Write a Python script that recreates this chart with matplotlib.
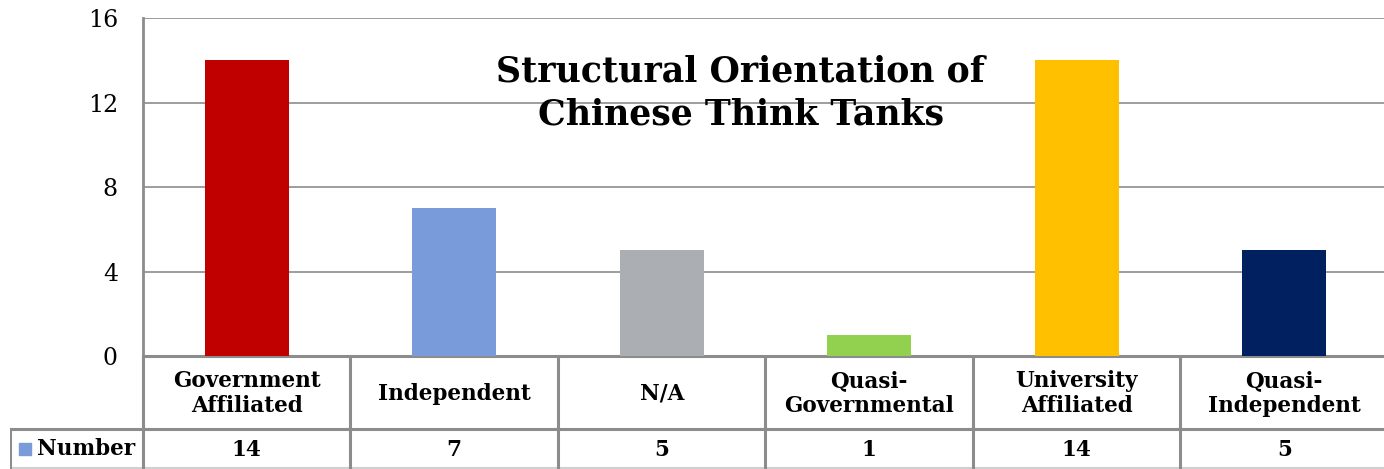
import matplotlib
matplotlib.use("Agg")
import matplotlib.pyplot as plt

categories = ["Government\nAffiliated", "Independent", "N/A", "Quasi-\nGovernmental",
              "University\nAffiliated", "Quasi-\nIndependent"]
values = [14, 7, 5, 1, 14, 5]
colors = ["#C00000", "#7A9BDA", "#ABAEB3", "#92D050", "#FFC000", "#002060"]
yticks = [0, 4, 8, 12, 16]
series_name = "Number"
title = "Structural Orientation of\nChinese Think Tanks"

W, H = 1384, 469
fig = plt.figure(figsize=(W / 100, H / 100), dpi=100)
FONT = "DejaVu Serif"
GRID = "#8C8C8C"

col_w = 207.5
ax_left, ax_top, ax_bot = 143, 18, 356
n = len(categories)
ax_right = ax_left + n * col_w

ax = fig.add_axes([ax_left / W, (H - ax_bot) / H, (ax_right - ax_left) / W, (ax_bot - ax_top) / H])
x = list(range(n))
ax.bar(x, values, width=0.405, color=colors, zorder=3)
ax.set_xlim(-0.5, n - 0.5)
ax.set_ylim(0, 16)
ax.set_yticks(yticks)
ax.set_yticklabels([str(t) for t in yticks], fontfamily=FONT, fontsize=17)
ax.tick_params(axis="y", length=0, pad=18)
ax.set_xticks([])
for s in ["top", "right"]:
    ax.spines[s].set_visible(False)
ax.spines["left"].set_color(GRID)
ax.spines["left"].set_linewidth(2)
ax.spines["bottom"].set_color(GRID)
ax.spines["bottom"].set_linewidth(2.2)
ax.grid(axis="y", color=GRID, linewidth=1.2, zorder=0)
ax.set_axisbelow(True)
ax.text(0.48, (ax_bot - 93) / (ax_bot - ax_top), title, transform=ax.transAxes,
        ha="center", va="center", fontfamily=FONT, fontweight="bold", fontsize=25,
        linespacing=1.3, zorder=5)

# data table
tl = 10
tax = fig.add_axes([tl / W, 0, (ax_right - tl) / W, (H - ax_bot) / H])
x_left = -0.5 + (tl - ax_left) / col_w
tax.set_xlim(x_left, n - 0.5)
tax.set_ylim(H, ax_bot)
tax.axis("off")
row_split = 429
bottom = 468
tax.plot([x_left, n - 0.5], [row_split, row_split], color=GRID, lw=2.2, solid_capstyle="butt")
tax.plot([x_left, n - 0.5], [bottom, bottom], color="#D0D0D0", lw=1.5, solid_capstyle="butt")
tax.plot([x_left, x_left], [row_split, H], color=GRID, lw=2.2)
for i in range(n + 1):
    xb = i - 0.5
    tax.plot([xb, xb], [ax_bot, H], color=GRID, lw=2.2)
TS = 15.5
for i, (c, v) in enumerate(zip(categories, values)):
    tax.text(i, (ax_bot + row_split) / 2 + 1, c, ha="center", va="center", fontfamily=FONT,
             fontweight="bold", fontsize=TS, linespacing=1.2)
    tax.text(i, (row_split + bottom) / 2 + 1, str(v), ha="center", va="center", fontfamily=FONT,
             fontweight="bold", fontsize=TS)
# legend key + series name
tax.scatter([x_left + 15 / col_w], [(row_split + bottom) / 2], marker="s", s=72, color=colors[1])
tax.text(x_left + 27 / col_w, (row_split + bottom) / 2, series_name, ha="left", va="center",
         fontfamily=FONT, fontweight="bold", fontsize=TS)

fig.savefig("out.png", dpi=100)
